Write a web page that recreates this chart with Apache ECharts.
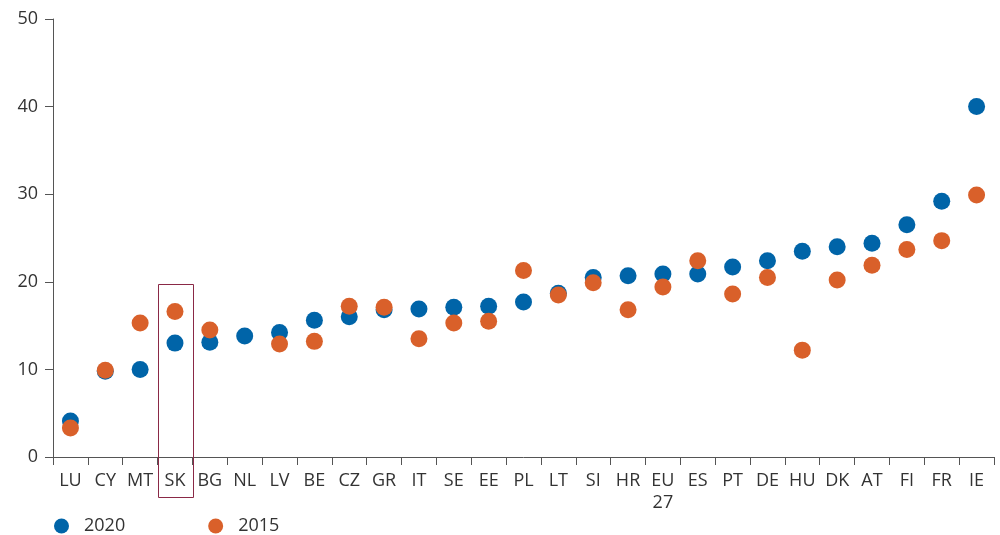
<!DOCTYPE html>
<html><head><meta charset="utf-8">
<script src="https://cdn.jsdelivr.net/npm/echarts@6/dist/echarts.min.js"></script>
<style>html,body{margin:0;padding:0;background:#fff}#c{width:1000px;height:535px}</style>
</head><body><div id="c"></div>
<script>
const categories = ['LU','CY','MT','SK','BG','NL','LV','BE','CZ','GR','IT','SE','EE','PL','LT','SI','HR','EU\n27','ES','PT','DE','HU','DK','AT','FI','FR','IE'];
const values2020 = [4.1,9.8,10.0,13.0,13.1,13.8,14.2,15.6,16.0,16.8,16.9,17.1,17.2,17.7,18.7,20.5,20.7,20.9,20.9,21.7,22.4,23.5,24.0,24.4,26.5,29.2,40.0];
const values2015 = [3.3,9.9,15.3,16.6,14.5,null,12.9,13.2,17.2,17.1,13.5,15.3,15.5,21.3,18.5,19.9,16.8,19.4,22.4,18.6,20.5,12.2,20.2,21.9,23.7,24.7,29.9];
const yTicks = [0,10,20,30,40,50];
const highlight = 'SK';
const highlightTop = 19.7;

const font = '"Open Sans", "Noto Sans", sans-serif';
const chart = echarts.init(document.getElementById('c'));
chart.setOption({
  animation:false,
  grid:{left:53,right:6,top:19,bottom:78,containLabel:false},
  legend:{
    data:['2020','2015'], left:54, top:517, padding:0, icon:'circle', itemWidth:15, itemHeight:15, itemGap:83, itemStyle:{borderWidth:0},
    textStyle:{fontFamily:font,fontSize:18,color:'#333',padding:[0,0,0,10]}
  },
  xAxis:{
    type:'category', data:categories, boundaryGap:true,
    axisLine:{lineStyle:{color:'#555',width:1}},
    axisTick:{show:true,length:8,inside:false,lineStyle:{color:'#555'}},
    axisLabel:{fontFamily:font,fontSize:18,color:'#333',margin:13,interval:0,lineHeight:22},
    splitLine:{show:false}
  },
  yAxis:{
    type:'value', min:0, max:50, interval:10,
    axisLine:{show:true,lineStyle:{color:'#555',width:1}},
    axisTick:{show:true,length:8,lineStyle:{color:'#555'}},
    axisLabel:{fontFamily:font,fontSize:18,color:'#333',margin:15,
      formatter:v=>yTicks.includes(v)?String(v):''},
    splitLine:{show:false}
  },
  series:[
    {name:'2020',type:'scatter',data:values2020,symbol:'circle',symbolSize:17,itemStyle:{color:'#0064a8',opacity:1},z:2},
    {name:'2015',type:'scatter',data:values2015,symbol:'circle',symbolSize:17,itemStyle:{color:'#d9602a',opacity:1},z:3}
  ]
});
const idx = categories.indexOf(highlight);
const cx = chart.convertToPixel({xAxisIndex:0}, idx);
const nextX = chart.convertToPixel({xAxisIndex:0}, idx+1);
const bw = nextX - cx;
const yTop = chart.convertToPixel({yAxisIndex:0}, highlightTop);
const yZero = chart.convertToPixel({yAxisIndex:0}, 0);
chart.setOption({graphic:[{type:'rect',shape:{x:Math.round(cx-bw/2)+0.5,y:Math.round(yTop)+0.5,width:Math.round(bw),height:Math.round(yZero+40-yTop)},
  style:{fill:'none',stroke:'#8a2946',lineWidth:1},z:10}]});
</script></body></html>
